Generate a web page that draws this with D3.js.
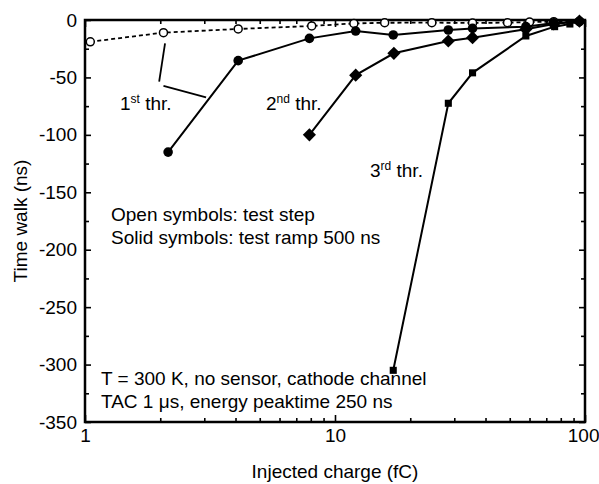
<!DOCTYPE html>
<html>
<head>
<meta charset="utf-8">
<script src="https://cdn.jsdelivr.net/npm/d3@7"></script>
<style>
  body { margin: 0; background: #fff; }
  text { font-family: "Liberation Sans", Arial, sans-serif; fill: #000; }
</style>
</head>
<body>
<script>
// values: [charge fC, time walk ns]
let stepThr1 = [[1.05, -19], [2.06, -11], [4.1, -7.8], [8.07, -5.2], [11.9, -3], [15.8, -2.4],
  [24.4, -2.3], [35.5, -2.6], [49, -2.3], [60, -1.8], [75, -1.5], [95, -1]]
let rampThr1 = [[2.15, -115], [4.1, -35.4], [7.9, -16], [12.1, -9.6], [17.1, -13], [28.4, -8.7],
  [35.5, -7.3], [58, -5.8], [75, -2.6], [95, -1.5]]
let rampThr2 = [[7.9, -100], [12.1, -48], [17.2, -29], [28.4, -18.3], [35.5, -15.4], [58, -8.1],
  [75, -3.5], [95, -1]]
let rampThr3 = [[17.1, -305], [28.4, -72.5], [35.5, -46], [58, -13.9], [75.6, -5.8], [87, -3.5]]

// leader lines from "1st thr." label
let leaders = [[[1.98, -53.7], [2.09, -20.3]], [[2.06, -57.4], [3.05, -67.3]]]

let xMajor = [1, 10, 100]
let xMinor = [2, 3, 4, 5, 6, 7, 8, 9, 20, 30, 40, 50, 60, 70, 80, 90]
let yMajor = [0, -50, -100, -150, -200, -250, -300, -350]
let yMinor = [-25, -75, -125, -175, -225, -275, -325]

let W = 599, H = 484
let m = { left: 85, top: 20, right: 14, bottom: 62 }
let iw = W - m.left - m.right, ih = H - m.top - m.bottom

let svg = d3.select('body').append('svg').attr('width', W).attr('height', H)
let g = svg.append('g').attr('transform', `translate(${m.left},${m.top})`)

let x = d3.scaleLog().domain([1, 100]).range([0, iw])
let y = d3.scaleLinear().domain([-350, 0]).range([ih, 0])

let fs = 19

// axes, ticks inward
let styleAxis = sel => {
  sel.select('.domain').remove()
  sel.selectAll('.tick line').attr('stroke', '#000').attr('stroke-width', 1.6)
  sel.selectAll('text').style('font-size', fs + 'px')
    .style('font-family', '"Liberation Sans", Arial, sans-serif')
}
g.append('g').attr('transform', `translate(0,${ih})`)
  .call(d3.axisBottom(x).tickValues(xMajor).tickFormat(d => String(d)).tickSize(-7).tickPadding(7))
  .call(styleAxis)
  .call(a => a.selectAll('.tick text').filter(d => d === 100).attr('text-anchor', 'end').attr('x', 14))
g.append('g').attr('transform', `translate(0,${ih})`)
  .call(d3.axisBottom(x).tickValues(xMinor).tickFormat('').tickSize(-4))
  .call(styleAxis)
g.append('g')
  .call(d3.axisTop(x).tickValues(xMajor).tickFormat('').tickSize(-7))
  .call(styleAxis)
g.append('g')
  .call(d3.axisTop(x).tickValues(xMinor).tickFormat('').tickSize(-4))
  .call(styleAxis)
g.append('g')
  .call(d3.axisLeft(y).tickValues(yMajor).tickFormat(d => String(d)).tickSize(-6).tickPadding(8))
  .call(styleAxis)
g.append('g')
  .call(d3.axisLeft(y).tickValues(yMinor).tickFormat('').tickSize(-4))
  .call(styleAxis)
g.append('g').attr('transform', `translate(${iw},0)`)
  .call(d3.axisRight(y).tickValues(yMajor).tickFormat('').tickSize(-6))
  .call(styleAxis)
g.append('g').attr('transform', `translate(${iw},0)`)
  .call(d3.axisRight(y).tickValues(yMinor).tickFormat('').tickSize(-4))
  .call(styleAxis)

g.append('rect').attr('width', iw).attr('height', ih)
  .attr('fill', 'none').attr('stroke', '#000').attr('stroke-width', 2.5)

// axis titles
svg.append('text').attr('x', m.left + iw / 2).attr('y', 478)
  .attr('text-anchor', 'middle').style('font-size', fs + 'px').text('Injected charge (fC)')
svg.append('text').attr('transform', `translate(27,${m.top + ih / 2}) rotate(-90)`)
  .attr('text-anchor', 'middle').style('font-size', fs + 'px').text('Time walk (ns)')

let line = d3.line().x(d => x(d[0])).y(d => y(d[1]))

// lines
g.append('path').datum(stepThr1).attr('d', line).attr('fill', 'none')
  .attr('stroke', '#000').attr('stroke-width', 1.8).attr('stroke-dasharray', '4,3')
;[rampThr1, rampThr2, rampThr3].forEach(s => {
  g.append('path').datum(s).attr('d', line).attr('fill', 'none')
    .attr('stroke', '#000').attr('stroke-width', 2)
})
leaders.forEach(s => {
  g.append('path').datum(s).attr('d', line).attr('fill', 'none')
    .attr('stroke', '#000').attr('stroke-width', 1.8)
})

// markers
g.selectAll('.open').data(stepThr1).enter().append('circle')
  .attr('cx', d => x(d[0])).attr('cy', d => y(d[1])).attr('r', 4)
  .attr('fill', '#fff').attr('stroke', '#000').attr('stroke-width', 1.5)
g.selectAll('.c1').data(rampThr1).enter().append('circle')
  .attr('cx', d => x(d[0])).attr('cy', d => y(d[1])).attr('r', 4.8).attr('fill', '#000')
g.selectAll('.c2').data(rampThr2).enter().append('path')
  .attr('transform', d => `translate(${x(d[0])},${y(d[1])})`)
  .attr('d', d3.symbol(d3.symbolDiamond2, 110)).attr('fill', '#000')
g.selectAll('.c3').data(rampThr3).enter().append('path')
  .attr('transform', d => `translate(${x(d[0])},${y(d[1])})`)
  .attr('d', d3.symbol(d3.symbolSquare, 50)).attr('fill', '#000')

// labels with superscripts
let label = (px, py, n, sup) => {
  let t = svg.append('text').attr('x', px).attr('y', py).style('font-size', fs + 'px')
  t.append('tspan').text(n)
  t.append('tspan').attr('dy', -7).style('font-size', '12px').text(sup)
  t.append('tspan').attr('dy', 7).text(' thr.')
}
label(120, 110, '1', 'st')
label(266, 110, '2', 'nd')
label(370, 177, '3', 'rd')

let notes = [
  [111, 221, 'Open symbols: test step'],
  [111, 244, 'Solid symbols: test ramp 500 ns'],
  [101, 385, 'T = 300 K, no sensor, cathode channel'],
  [101, 408, 'TAC 1 μs, energy peaktime 250 ns']
]
notes.forEach(n => {
  svg.append('text').attr('x', n[0]).attr('y', n[1]).style('font-size', fs + 'px').text(n[2])
})
</script>
</body>
</html>
